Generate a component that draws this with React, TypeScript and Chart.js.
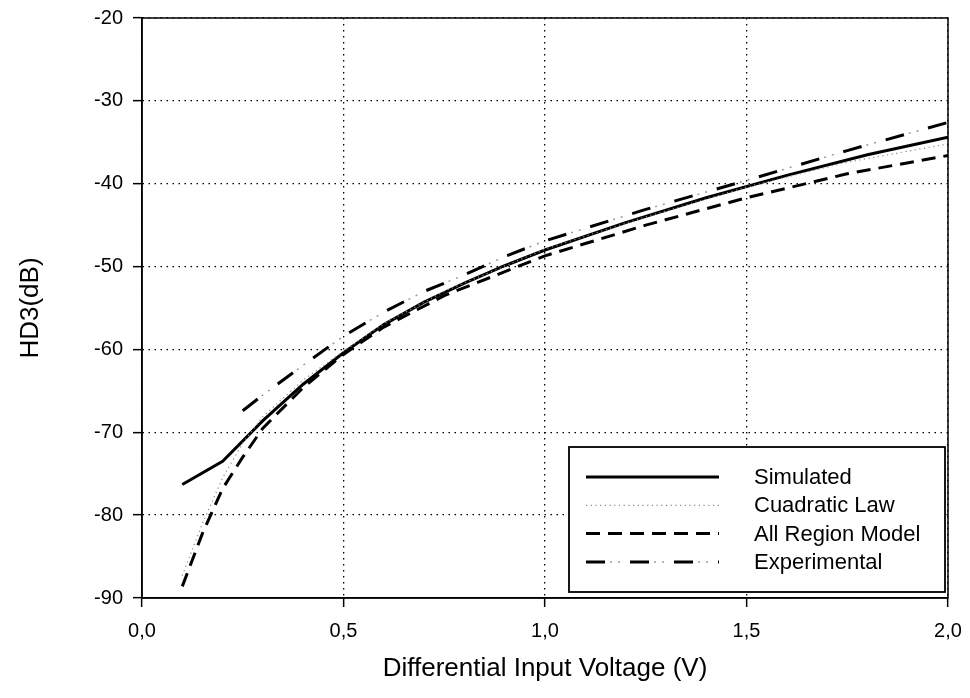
import React, { useEffect, useRef } from 'react';
import { Chart, registerables } from 'chart.js';

Chart.register(...registerables);

// ---- Data ----
const simulatedX = [0.1, 0.2, 0.3, 0.4, 0.5, 0.6, 0.7, 0.8, 0.9, 1.0, 1.2, 1.4, 1.6, 1.8, 2.0];
const simulatedY = [-76.3, -73.5, -68.6, -64.2, -60.4, -57.0, -54.3, -52.0, -49.9, -48.0, -44.7, -41.7, -39.0, -36.5, -34.4];

const cuadraticX = [0.1, 0.15, 0.2, 0.25, 0.3, 0.4, 0.5, 0.6, 0.75, 1.0, 1.25, 1.5, 1.75, 2.0];
const cuadraticY = [-87.3, -81.0, -75.5, -71.3, -68.1, -63.7, -60.2, -56.9, -53.0, -47.9, -44.0, -40.4, -37.4, -35.2];

const allRegionX = [0.1, 0.15, 0.2, 0.25, 0.3, 0.4, 0.5, 0.6, 0.75, 1.0, 1.25, 1.5, 1.75, 2.0];
const allRegionY = [-88.6, -82.2, -76.8, -73.0, -69.5, -64.6, -60.6, -57.3, -53.5, -48.7, -45.0, -41.7, -38.8, -36.6];

const experimentalX = [0.25, 0.3, 0.4, 0.5, 0.6, 0.7, 0.8, 0.9, 1.0, 1.25, 1.5, 1.75, 2.0];
const experimentalY = [-67.4, -65.5, -61.9, -58.4, -55.5, -53.0, -51.0, -48.8, -46.9, -43.1, -39.6, -36.0, -32.6];

const seriesNames = ['Simulated', 'Cuadratic Law', 'All Region Model', 'Experimental'];

const xTicks = { min: 0, max: 2, step: 0.5 };
const yTicks = { min: -90, max: -20, step: 10 };

const xTitle = 'Differential Input Voltage (V)';
const yTitle = 'HD3(dB)';

const FONT = '"Liberation Sans", Arial, Helvetica, sans-serif';

const toPoints = (xs: number[], ys: number[]) => xs.map((x, i) => ({ x, y: ys[i] }));

// ---- Styles ----
const STYLE = {
  simulated: { color: '#000', width: 3, dash: [] as number[], offset: 0 },
  cuadratic: { color: '#8a8a8a', width: 1.2, dash: [1.2, 3.5], offset: 0 },
  allRegion: { color: '#000', width: 3, dash: [14, 8], offset: 0 },
  expMain: { color: '#000', width: 3, dash: [19, 25], offset: 0 },
  expDots: { color: '#9a9a9a', width: 1.5, dash: [2, 6, 2, 34], offset: 20 },
};

const framePlugin = {
  id: 'frame',
  afterDatasetsDraw(chart: any) {
    const { ctx, chartArea } = chart;
    ctx.save();
    ctx.strokeStyle = '#000';
    ctx.lineWidth = 1.5;
    ctx.setLineDash([]);
    ctx.strokeRect(chartArea.left, chartArea.top, chartArea.right - chartArea.left, chartArea.bottom - chartArea.top);
    ctx.restore();
  },
};

const legendPlugin = {
  id: 'boxLegend',
  afterDraw(chart: any) {
    const { ctx, chartArea } = chart;
    const left = chartArea.right - 379;
    const right = chartArea.right - 3;
    const top = chartArea.bottom - 151;
    const bottom = chartArea.bottom - 6;
    ctx.save();
    ctx.fillStyle = '#fff';
    ctx.fillRect(left, top, right - left, bottom - top);
    ctx.strokeStyle = '#000';
    ctx.lineWidth = 1.8;
    ctx.setLineDash([]);
    ctx.strokeRect(left, top, right - left, bottom - top);

    const rowY0 = top + 30;
    const rowGap = 28.3;
    const lx1 = left + 17;
    const lx2 = left + 150;
    const tx = left + 185;

    const drawSample = (y: number, s: any) => {
      ctx.save();
      ctx.strokeStyle = s.color;
      ctx.lineWidth = s.width;
      ctx.setLineDash(s.dash);
      ctx.lineDashOffset = s.offset;
      ctx.beginPath();
      ctx.moveTo(lx1, y);
      ctx.lineTo(lx2, y);
      ctx.stroke();
      ctx.restore();
    };

    const styles = [[STYLE.simulated], [STYLE.cuadratic], [STYLE.allRegion], [STYLE.expMain, STYLE.expDots]];
    ctx.font = `22px ${FONT}`;
    ctx.fillStyle = '#000';
    ctx.textBaseline = 'middle';
    ctx.textAlign = 'left';
    seriesNames.forEach((name, i) => {
      const y = rowY0 + i * rowGap;
      styles[i].forEach((s) => drawSample(y, s));
      ctx.fillText(name, tx, y + 1);
    });
    ctx.restore();
  },
};

export default function App() {
  const canvasRef = useRef<HTMLCanvasElement | null>(null);

  useEffect(() => {
    if (!canvasRef.current) return;
    const mk = (label: string, data: any[], s: any) => ({
      label,
      data,
      borderColor: s.color,
      borderWidth: s.width,
      borderDash: s.dash,
      borderDashOffset: s.offset,
      pointRadius: 0,
      fill: false,
      tension: 0,
    });
    const chart = new Chart(canvasRef.current, {
      type: 'line',
      data: {
        datasets: [
          mk(seriesNames[1], toPoints(cuadraticX, cuadraticY), STYLE.cuadratic),
          mk(seriesNames[2], toPoints(allRegionX, allRegionY), STYLE.allRegion),
          mk(seriesNames[3], toPoints(experimentalX, experimentalY), STYLE.expMain),
          mk(seriesNames[3] + ' dots', toPoints(experimentalX, experimentalY), STYLE.expDots),
          mk(seriesNames[0], toPoints(simulatedX, simulatedY), STYLE.simulated),
        ],
      },
      options: {
        animation: false,
        responsive: true,
        maintainAspectRatio: false,
        layout: { padding: { top: 18, right: 22, left: 0, bottom: 0 } },
        plugins: {
          legend: { display: false },
          tooltip: { enabled: false },
        },
        scales: {
          x: {
            type: 'linear',
            min: xTicks.min,
            max: xTicks.max,
            afterFit: (scale: any) => {
              scale.height = 100;
              scale.paddingLeft = 0;
              scale.paddingRight = 0;
            },
            ticks: {
              stepSize: xTicks.step,
              color: '#000',
              font: { family: FONT, size: 20 },
              padding: 12,
              maxRotation: 0,
              autoSkip: false,
              callback: (v: any) => Number(v).toFixed(1).replace('.', ','),
            },
            grid: {
              color: '#000',
              lineWidth: 1.3,
              tickLength: 9,
              tickWidth: 1.5,
              tickBorderDash: [],
            },
            border: { display: true, color: '#000', width: 1.5, dash: [1.5, 4.5] },
            title: {
              display: true,
              text: xTitle,
              color: '#000',
              font: { family: FONT, size: 26 },
              padding: { top: 0, bottom: 14 },
            },
          },
          y: {
            type: 'linear',
            min: yTicks.min,
            max: yTicks.max,
            afterFit: (scale: any) => {
              scale.width = 142;
              scale.paddingTop = 0;
              scale.paddingBottom = 0;
            },
            ticks: {
              stepSize: yTicks.step,
              color: '#000',
              font: { family: FONT, size: 20 },
              padding: 10,
              callback: (v: any) => String(v),
            },
            grid: {
              color: '#000',
              lineWidth: 1.3,
              tickLength: 9,
              tickWidth: 1.5,
              tickBorderDash: [],
            },
            border: { display: true, color: '#000', width: 1.5, dash: [1.5, 4.5] },
            title: {
              display: true,
              text: yTitle,
              color: '#000',
              font: { family: FONT, size: 26 },
              padding: { top: 15, bottom: 0 },
            },
          },
        },
      },
      plugins: [framePlugin, legendPlugin],
    } as any);
    return () => chart.destroy();
  }, []);

  return (
    <div style={{ position: 'fixed', left: 0, top: 0, width: 970, height: 698, background: '#fff' }}>
      <canvas ref={canvasRef} />
    </div>
  );
}
